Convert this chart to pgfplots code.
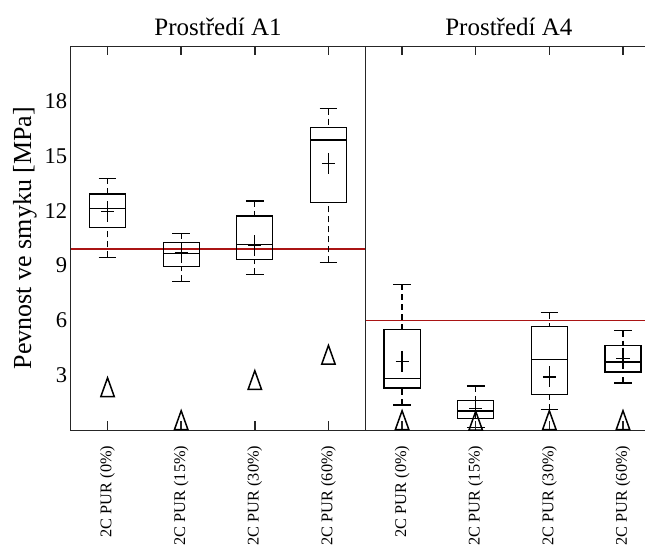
\documentclass[border=0pt]{standalone}
\usepackage{fontspec}
\setmainfont{Liberation Serif}
\usepackage{pgfplots}
\pgfplotsset{compat=1.18}
\usepgfplotslibrary{statistics}
\definecolor{refred}{RGB}{170,20,20}
\begin{document}
\begin{tikzpicture}
\begin{axis}[
  width=588.8bp, height=384bp, scale only axis,
  xmin=0.5, xmax=8.5, ymin=0, ymax=21,
  clip=false,
  axis line style={line width=0.9bp, black!85},
  xtick={1,...,8},
  xticklabels={2C PUR (0\%),2C PUR (15\%),2C PUR (30\%),2C PUR (60\%),2C PUR (0\%),2C PUR (15\%),2C PUR (30\%),2C PUR (60\%)},
  ytick={3,6,...,18},
  xtick pos=both, ytick pos=left,
  tick align=inside,
  major tick length=9bp,
  xtick style={line width=1.4bp, black!85},
  ytick style={draw=none},
  xticklabel style={rotate=90, anchor=east, font=\fontsize{16.3bp}{19bp}\selectfont},
  xticklabel shift=12bp,
  yticklabel style={font=\fontsize{22.5bp}{26bp}\selectfont},
  /pgf/number format/assume math mode=true,
  ylabel={Pevnost ve smyku [MPa]},
  every axis y label/.style={at={(axis description cs:-0.0776,0.5)}, rotate=90, anchor=center, font=\fontsize{26bp}{30bp}\selectfont},
  boxplot/draw direction=y,
  boxplot/box extend=0.49,
  boxplot/whisker extend=0.24,
  boxplot/draw/lower whisker/.code={%
    \draw[dash pattern=on 6bp off 4bp] (boxplot box cs:\pgfplotsboxplotvalue{lower whisker},0.5) -- (boxplot box cs:\pgfplotsboxplotvalue{lower quartile},0.5);
    \draw (boxplot whisker cs:\pgfplotsboxplotvalue{lower whisker},0) -- (boxplot whisker cs:\pgfplotsboxplotvalue{lower whisker},1);
  },
  boxplot/draw/upper whisker/.code={%
    \draw[dash pattern=on 6bp off 4bp] (boxplot box cs:\pgfplotsboxplotvalue{upper whisker},0.5) -- (boxplot box cs:\pgfplotsboxplotvalue{upper quartile},0.5);
    \draw (boxplot whisker cs:\pgfplotsboxplotvalue{upper whisker},0) -- (boxplot whisker cs:\pgfplotsboxplotvalue{upper whisker},1);
  },
  boxplot/draw/average/.code={},
]
% reference lines
\addplot[refred, line width=1.2bp] coordinates {(0.5,9.9) (4.5,9.9)};
\addplot[refred, line width=1.2bp] coordinates {(4.5,6.0) (8.5,6.0)};
% divider
\addplot[black!85, line width=0.9bp] coordinates {(4.5,0) (4.5,21)};
% category tick marks (bottom and top), drawn as vertical-bar marks
\addplot[only marks, mark=|, mark size=4.5bp, mark options={line width=1.5bp, black!85}] coordinates {
(1,0.245) (2,0.245) (3,0.245) (4,0.245) (5,0.245) (6,0.245) (7,0.245) (8,0.245)
(1,20.755) (2,20.755) (3,20.755) (4,20.755) (5,20.755) (6,20.755) (7,20.755) (8,20.755)};
% A1
\addplot[black, line width=1.2bp, boxplot prepared={draw position=1, lower whisker=9.44, lower quartile=11.07, median=12.13, upper quartile=12.91, upper whisker=13.76}] coordinates {};
\addplot[black, line width=1.2bp, boxplot prepared={draw position=2, lower whisker=8.15, lower quartile=8.93, median=9.67, upper quartile=10.24, upper whisker=10.76}] coordinates {};
\addplot[black, line width=1.2bp, boxplot prepared={draw position=3, lower whisker=8.53, lower quartile=9.31, median=10.16, upper quartile=11.71, upper whisker=12.53}] coordinates {};
\addplot[black, line width=1.2bp, boxplot prepared={draw position=4, lower whisker=9.17, lower quartile=12.44, median=15.86, upper quartile=16.55, upper whisker=17.58}] coordinates {};
% A4
\addplot[black, line width=1.2bp, boxplot prepared={draw position=5, lower whisker=1.38, lower quartile=2.31, median=2.82, upper quartile=5.49, upper whisker=7.98}] coordinates {};
\addplot[black, line width=1.2bp, boxplot prepared={draw position=6, lower whisker=0.15, lower quartile=0.64, median=1.05, upper quartile=1.64, upper whisker=2.42}] coordinates {};
\addplot[black, line width=1.2bp, boxplot prepared={draw position=7, lower whisker=1.11, lower quartile=1.95, median=3.87, upper quartile=5.67, upper whisker=6.42}] coordinates {};
\addplot[black, line width=1.2bp, boxplot prepared={draw position=8, lower whisker=2.58, lower quartile=3.18, median=3.73, upper quartile=4.65, upper whisker=5.44}] coordinates {};
% means
\addplot[only marks, mark=+, mark size=10.5bp, mark options={xscale=0.62, line width=1.2bp, black}] coordinates {
(1,11.95) (2,9.70) (3,10.09) (4,14.58) (5,3.76) (6,1.20) (7,2.91) (8,3.94)};
% triangles
\addplot[only marks, mark=triangle, mark size=12.5bp, mark options={xscale=0.62, line width=1.5bp, black}] coordinates {
(1,2.18) (2,0.38) (3,2.57) (4,3.95) (5,0.38) (6,0.35) (7,0.38) (8,0.38)};
% titles
\node[anchor=base, font=\fontsize{25bp}{30bp}\selectfont] at ([yshift=11bp]axis cs:2.5,21) {Prostředí A1};
\node[anchor=base, font=\fontsize{25bp}{30bp}\selectfont] at ([yshift=11bp]axis cs:6.45,21) {Prostředí A4};
\coordinate (SW) at (rel axis cs:0,0);
\coordinate (NE) at (rel axis cs:1,1);
\end{axis}
\pgfresetboundingbox
\path[use as bounding box] ([xshift=-70.7bp,yshift=-114bp]SW) rectangle ([xshift=-14.8bp,yshift=46bp]NE);
\end{tikzpicture}
\end{document}
